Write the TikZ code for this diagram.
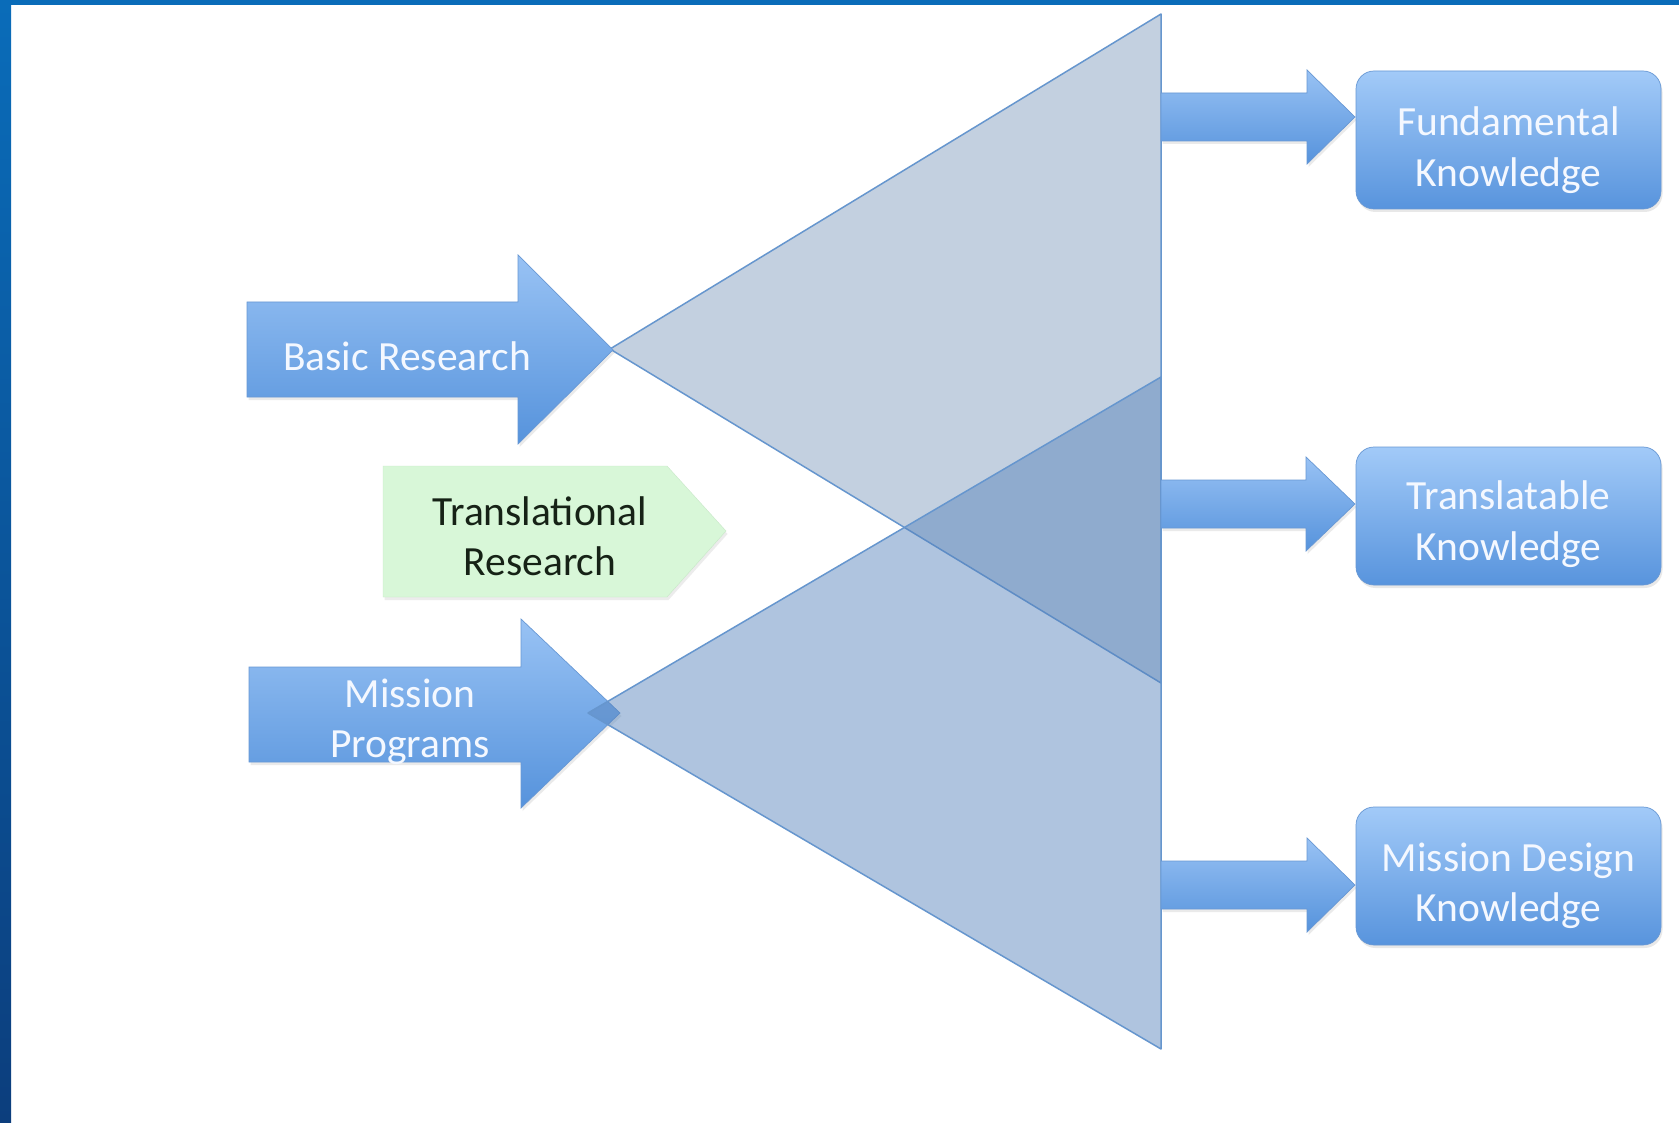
\documentclass[tikz,border=0pt]{standalone}
\usepackage{fontspec}
\setmainfont{Carlito}
\usetikzlibrary{shadows}
\definecolor{frameblue}{RGB}{10,108,185}
\definecolor{framedark}{RGB}{12,62,125}
\definecolor{arrtop}{RGB}{152,194,244}
\definecolor{arrbot}{RGB}{86,147,220}
\definecolor{arredge}{RGB}{104,152,212}
\definecolor{boxtop}{RGB}{162,202,248}
\definecolor{boxbot}{RGB}{88,148,221}
\definecolor{triA}{RGB}{195,208,224}
\definecolor{triB}{RGB}{85,130,187}
\definecolor{triedge}{RGB}{102,150,206}
\definecolor{greenfill}{RGB}{216,247,216}
\definecolor{greenedge}{RGB}{200,232,200}
\definecolor{txtwhite}{RGB}{244,248,255}
\definecolor{txtdark}{RGB}{22,34,22}
\begin{document}
\begin{tikzpicture}[x=1pt,y=-1pt,
  blockarrow/.style={top color=arrtop,bottom color=arrbot,draw=arredge,line width=0.7pt,
    drop shadow={shadow xshift=1.5pt,shadow yshift=-3pt,opacity=0.16}},
  tri/.style={draw=triedge,line width=1.5pt,line join=round},
  kbox/.style={rectangle,rounded corners=18pt,minimum width=305pt,minimum height=138pt,
    top color=boxtop,bottom color=boxbot,draw=arredge,line width=0.7pt,
    drop shadow={shadow xshift=1.5pt,shadow yshift=-3pt,opacity=0.18}},
  wtext/.style={text=txtwhite,font=\fontsize{41.5}{50.5}\selectfont,align=center,inner sep=0pt},
  dtext/.style={text=txtdark,font=\fontsize{41.5}{50.5}\selectfont,align=center,inner sep=0pt}]
\useasboundingbox (0,0) rectangle (1679,1123);
\fill[white] (0,0) rectangle (1679,1123);
% frame
\fill[top color=frameblue,bottom color=framedark] (0,0) rectangle (11,1123);
\fill[frameblue] (0,0) rectangle (1679,5);
% upper triangle (opaque)
\draw[tri,fill=triA] (610,349) -- (1161,14) -- (1161,683) -- cycle;
% mission programs arrow (under lower triangle)
\draw[blockarrow] (249,667) -- (521,667) -- (521,619) -- (620,713) -- (521,808) -- (521,762) -- (249,762) -- cycle;
% lower triangle (transparent)
\draw[tri,fill=triB,fill opacity=0.47] (588,713) -- (1161,377) -- (1161,1049) -- cycle;
% basic research arrow
\draw[blockarrow] (247,302) -- (518,302) -- (518,255) -- (613,350) -- (518,444) -- (518,397) -- (247,397) -- cycle;
% translational research pentagon
\draw[fill=greenfill,draw=greenedge,line width=0.4pt,
  drop shadow={shadow xshift=1.5pt,shadow yshift=-3pt,opacity=0.15}]
  (383,466) -- (667,466) -- (726,531) -- (667,597) -- (383,597) -- cycle;
% right arrows
\draw[blockarrow] (1161,93) -- (1307,93) -- (1307,70) -- (1355,117) -- (1307,164) -- (1307,141) -- (1161,141) -- cycle;
\draw[blockarrow] (1161,480) -- (1306,480) -- (1306,457) -- (1355,504) -- (1306,551) -- (1306,528) -- (1161,528) -- cycle;
\draw[blockarrow] (1161,861) -- (1307,861) -- (1307,838) -- (1355,885) -- (1307,932) -- (1307,909) -- (1161,909) -- cycle;
% boxes
\node[kbox] (fund) at (1508.5,140) {};
\node[kbox] (transk) at (1508.5,516) {};
\node[kbox] (mdk) at (1508.5,876) {};
\node[wtext] (fundT) at ([yshift=-10pt]fund.center) {Fundamental\\Knowledge};
\node[wtext] (transkT) at ([yshift=-8pt]transk.center) {Translatable\\Knowledge};
\node[wtext] (mdkT) at ([yshift=-10pt]mdk.center) {Mission Design\\Knowledge};
% arrow labels
\node[wtext] (basic) at (407,356) {Basic Research};
\node[wtext] (mission) at (410,722) {Mission\\Programs};
\node[dtext] (transl) at (540,536) {Translational\\Research};
\end{tikzpicture}
\end{document}
